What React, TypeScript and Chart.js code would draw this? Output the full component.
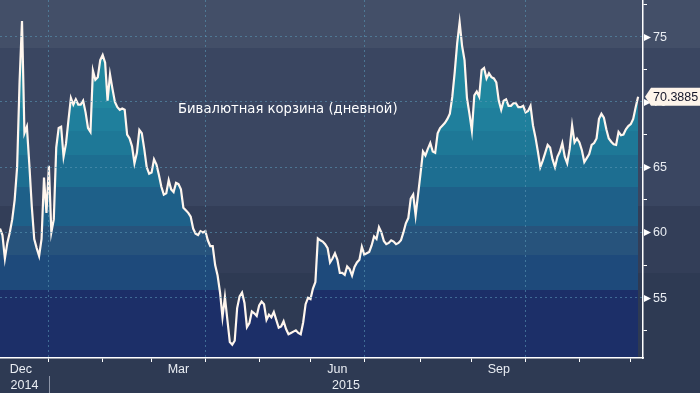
import React, { useEffect, useRef } from 'react';
import { Chart, registerables } from 'chart.js';

Chart.register(...registerables);

// Daily (business-day) values, 4 Dec 2014 .. 4 Dec 2015
const values: number[] = [
  60.3, 59.8, 58.0, 59.2, 60.0, 61.0, 62.5, 65.0, 71.5, 76.2,
  67.6, 68.1, 65.2, 62.0, 59.5, 58.8, 58.2, 59.5, 64.2, 61.5,
  65.1, 60.0, 61.0, 66.5, 68.0, 68.1, 65.8, 66.8, 68.6, 70.3,
  69.8, 70.2, 69.8, 69.8, 70.1, 69.2, 68.0, 67.7, 72.4, 71.7,
  71.9, 73.2, 73.6, 73.0, 70.1, 72.1, 71.0, 70.0, 69.6, 69.4,
  69.5, 69.4, 67.5, 67.2, 66.6, 65.3, 66.1, 67.85, 67.6, 66.4,
  65.0, 64.5, 64.6, 65.6, 65.2, 64.4, 63.5, 62.9, 63.0, 64.0,
  63.3, 63.1, 63.8, 63.7, 63.3, 61.9, 61.7, 61.5, 61.2, 60.3,
  59.9, 59.8, 60.1, 60.0, 60.1, 59.4, 58.95, 58.95, 57.5, 56.7,
  55.4, 53.5, 55.05, 53.3, 51.6, 51.4, 51.7, 54.2, 55.1, 55.4,
  54.6, 52.75, 53.05, 53.95, 53.8, 53.6, 54.4, 54.7, 54.5, 53.3,
  53.7, 53.5, 53.9, 53.3, 52.7, 52.8, 53.2, 52.6, 52.2, 52.3,
  52.4, 52.5, 52.3, 52.2, 53.1, 54.5, 55.0, 54.9, 55.7, 56.2,
  59.55, 59.4, 59.3, 59.1, 58.8, 57.7, 58.0, 58.4, 57.9, 56.9,
  56.9, 56.75, 57.4, 57.2, 56.7, 57.35, 57.7, 57.9, 58.9, 58.3,
  58.4, 58.5, 59.0, 59.7, 59.5, 60.4, 60.0, 59.35, 59.1, 59.2,
  59.4, 59.3, 59.1, 59.2, 59.4, 60.0, 60.7, 61.1, 62.6, 62.9,
  61.3, 62.9, 64.5, 66.2, 65.9, 66.4, 66.85, 66.2, 66.1, 67.6,
  68.0, 68.2, 68.4, 68.7, 69.1, 70.4, 72.3, 74.5, 76.1, 74.3,
  73.2, 70.3, 69.1, 67.8, 70.5, 70.8, 70.4, 72.45, 72.6, 71.8,
  72.2, 71.9, 71.8, 71.5, 70.1, 69.4, 70.1, 70.2, 69.7, 69.7,
  69.9, 69.9, 69.6, 69.6, 69.7, 69.2, 69.3, 69.7, 68.2, 67.3,
  66.2, 65.0, 65.5, 66.1, 66.7, 66.5, 65.6, 65.0, 65.8, 66.2,
  66.85, 65.8, 65.3, 66.4, 68.2, 66.9, 67.2, 66.9, 66.3, 65.4,
  65.7, 66.0, 66.7, 66.85, 67.2, 68.7, 69.1, 68.8, 67.9, 67.2,
  66.95, 66.75, 66.7, 67.7, 67.45, 67.5, 67.9, 68.15, 68.3, 68.7,
  69.6, 70.3885,
];

// Month starts, as business-day indices (Jan 2015 .. Dec 2015)
const monthTickIdx: number[] = [20, 42, 62, 84, 106, 127, 149, 172, 193, 215, 237, 258];
const quarterGridIdx: number[] = [20, 84, 149, 215];
const monthLabels: string[] = ['Dec', 'Mar', 'Jun', 'Sep'];
const monthLabelStart: number[] = [-3, 62, 127, 193];
const monthLabelEnd: number[] = [20, 84, 149, 215];
const yearLabels: string[] = ['2014', '2015'];
const yearBreakIdx = 20;
const yMajorTicks: number[] = [55, 60, 65, 70, 75];
const yMinorTicks: number[] = [52.5, 57.5, 62.5, 67.5, 72.5, 77.5];
const titleText = 'Бивалютная корзина (дневной)';
const lastLabel = '70.3885';

const X_MIN = 0;
const X_MAX = 263;
const Y_MIN = 50.38;
const Y_MAX = 77.81;

// styling
const bgBandEdges = [74.14, 62.03, 56.93];
const bgBandColors = ['#434f68', '#3a4661', '#333e58', '#2e3a53'];
const fillEdges = [69.57, 67.74, 65.91, 63.48, 60.5, 58.3, 55.6];
const fillColors = ['#21879f', '#1f7f9c', '#1e7897', '#1d6e91', '#1e6089', '#27537c', '#1e4a7b', '#1c2f68'];
const gridColor = 'rgba(88,150,180,0.6)';
const axisText = '#e9edf3';
const AXIS_FONT = '"Liberation Sans", Arial, sans-serif';

const furniture = {
  id: 'furniture',
  beforeDraw(chart: any) {
    const { ctx } = chart;
    const ys = chart.scales.y;
    const W = chart.width;
    const H = chart.height;
    ctx.save();
    let prev = 0;
    for (let k = 0; k < bgBandColors.length; k++) {
      const next = k < bgBandEdges.length ? Math.round(ys.getPixelForValue(bgBandEdges[k])) : H;
      ctx.fillStyle = bgBandColors[k];
      ctx.fillRect(0, prev, W, next - prev);
      prev = next;
    }
    ctx.restore();
  },
  afterDraw(chart: any) {
    const { ctx, chartArea: a } = chart;
    const xs = chart.scales.x;
    const ys = chart.scales.y;
    ctx.save();
    // y labels with triangle markers
    ctx.font = `12.5px ${AXIS_FONT}`;
    ctx.textBaseline = 'middle';
    ctx.textAlign = 'left';
    yMajorTicks.forEach((v) => {
      const py = Math.round(ys.getPixelForValue(v)) + 0.5;
      ctx.fillStyle = '#ffffff';
      ctx.beginPath();
      ctx.moveTo(a.right + 1, py - 3.5);
      ctx.lineTo(a.right + 8, py);
      ctx.lineTo(a.right + 1, py + 3.5);
      ctx.closePath();
      ctx.fill();
      ctx.fillStyle = axisText;
      ctx.fillText(String(v), a.right + 10, py + 0.5);
    });
    // month labels (centred inside month)
    ctx.textAlign = 'center';
    ctx.fillStyle = axisText;
    monthLabels.forEach((m, k) => {
      const cx = (xs.getPixelForValue(monthLabelStart[k]) + xs.getPixelForValue(monthLabelEnd[k])) / 2;
      ctx.fillText(m, cx, a.bottom + 11.5);
    });
    // year labels
    const jx = xs.getPixelForValue(yearBreakIdx);
    ctx.fillText(yearLabels[0], (a.left + jx) / 2, a.bottom + 27.5);
    ctx.fillText(yearLabels[1], (jx + a.right) / 2, a.bottom + 27.5);
    ctx.strokeStyle = '#8d95a8';
    ctx.lineWidth = 1;
    ctx.beginPath();
    ctx.moveTo(Math.round(jx) + 0.5, a.bottom + 18);
    ctx.lineTo(Math.round(jx) + 0.5, chart.height);
    ctx.stroke();
    // title
    ctx.font = '13.2px "DejaVu Sans", sans-serif';
    ctx.textAlign = 'left';
    ctx.fillStyle = '#ffffff';
    ctx.fillText(titleText, 178, 110);
    // last value box
    const last = values[values.length - 1];
    const py = ys.getPixelForValue(last);
    ctx.fillStyle = '#fdf4ea';
    ctx.beginPath();
    ctx.moveTo(a.right + 2, py);
    ctx.lineTo(a.right + 8, py - 9);
    ctx.lineTo(chart.width + 1, py - 9);
    ctx.lineTo(chart.width + 1, py + 9);
    ctx.lineTo(a.right + 8, py + 9);
    ctx.closePath();
    ctx.fill();
    ctx.fillStyle = '#15172a';
    ctx.font = `12.5px ${AXIS_FONT}`;
    ctx.textBaseline = 'middle';
    ctx.fillText(lastLabel, a.right + 10, py + 0.5);
    ctx.restore();
  },
};

function fillGradient(c: any) {
  const chart = c.chart;
  const area = chart.chartArea;
  if (!area) return fillColors[0];
  const ys = chart.scales.y;
  const h = area.bottom - area.top;
  const g = chart.ctx.createLinearGradient(0, area.top, 0, area.bottom);
  g.addColorStop(0, fillColors[0]);
  fillEdges.forEach((e, k) => {
    const f = Math.min(1, Math.max(0, (ys.getPixelForValue(e) - area.top) / h));
    g.addColorStop(f, fillColors[k]);
    g.addColorStop(f, fillColors[k + 1]);
  });
  g.addColorStop(1, fillColors[fillColors.length - 1]);
  return g;
}

export default function App() {
  const ref = useRef<HTMLCanvasElement>(null);
  useEffect(() => {
    const canvas = ref.current;
    if (!canvas) return;
    const chart = new Chart(canvas, {
      type: 'line',
      data: {
        datasets: [
          {
            data: values.map((v, i) => ({ x: i, y: v })),
            borderColor: '#fff6ee',
            borderWidth: 2.2,
            pointRadius: 0,
            tension: 0,
            fill: 'start',
            backgroundColor: fillGradient,
          },
        ],
      },
      options: {
        responsive: false,
        animation: false,
        devicePixelRatio: 1,
        layout: { padding: 0 },
        plugins: { legend: { display: false }, tooltip: { enabled: false }, title: { display: false } },
        scales: {
          x: {
            type: 'linear',
            position: 'bottom',
            min: X_MIN,
            max: X_MAX,
            afterBuildTicks: (s: any) => {
              s.ticks = monthTickIdx.map((v) => ({ value: v }));
            },
            afterFit: (s: any) => {
              s.height = 35;
            },
            ticks: { display: false },
            grid: {
              z: 1,
              color: (c: any) => (c.tick && quarterGridIdx.includes(c.tick.value) ? gridColor : 'rgba(0,0,0,0)'),
              tickColor: '#ffffff',
              tickLength: 4,
              lineWidth: 1,
              drawTicks: true,
            },
            border: { display: true, color: '#ffffff', width: 1.5, dash: [2, 3], z: 2 },
          },
          y: {
            type: 'linear',
            position: 'right',
            min: Y_MIN,
            max: Y_MAX,
            afterBuildTicks: (s: any) => {
              s.ticks = [...yMinorTicks, ...yMajorTicks].sort((p, q) => p - q).map((v) => ({ value: v }));
            },
            afterFit: (s: any) => {
              s.width = 57;
            },
            ticks: { display: false },
            grid: {
              z: 1,
              color: (c: any) => (c.tick && yMajorTicks.includes(c.tick.value) ? gridColor : 'rgba(0,0,0,0)'),
              tickColor: (c: any) => (c.tick && yMinorTicks.includes(c.tick.value) ? '#ffffff' : 'rgba(0,0,0,0)'),
              tickLength: 4,
              lineWidth: 1,
              drawTicks: true,
            },
            border: { display: true, color: '#ffffff', width: 1.5, dash: [2, 3], z: 2 },
          },
        },
      },
      plugins: [furniture],
    } as any);
    return () => chart.destroy();
  }, []);
  return (
    <div style={{ position: 'absolute', left: 0, top: 0, width: 700, height: 393 }}>
      <canvas ref={ref} width={700} height={393} style={{ display: 'block', width: 700, height: 393 }} />
    </div>
  );
}
